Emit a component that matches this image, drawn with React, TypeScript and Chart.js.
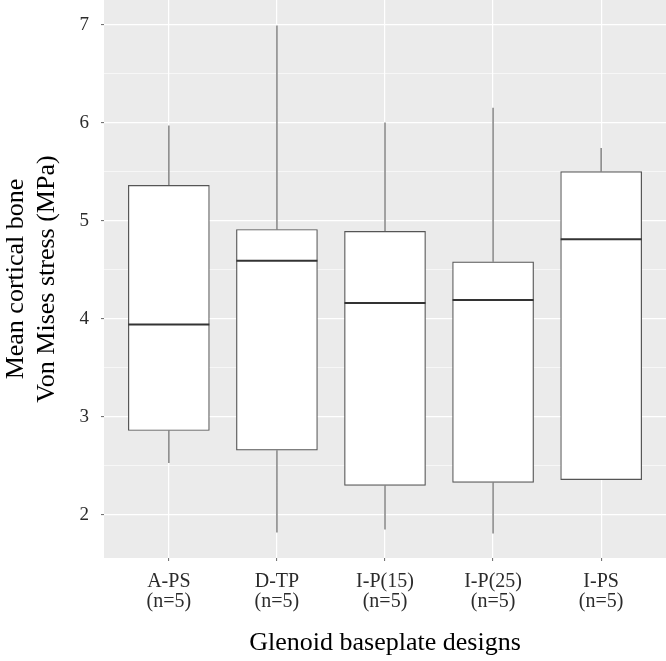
import React, { useEffect, useRef } from "react";
import { Chart, registerables } from "chart.js";

Chart.register(...registerables);

const categories = ["A-PS", "D-TP", "I-P(15)", "I-P(25)", "I-PS"];
const nLabels = ["(n=5)", "(n=5)", "(n=5)", "(n=5)", "(n=5)"];
const whiskerMin = [2.53, 1.82, 1.85, 1.81, 2.36];
const q1 = [2.86, 2.66, 2.3, 2.33, 2.36];
const medians = [3.94, 4.59, 4.16, 4.19, 4.81];
const q3 = [5.36, 4.91, 4.89, 4.58, 5.5];
const whiskerMax = [5.97, 6.99, 6.0, 6.15, 5.74];
const yTicks = [2, 3, 4, 5, 6, 7];
const yMinorTicks = [2.5, 3.5, 4.5, 5.5, 6.5];

const FONT = "'Liberation Serif', 'Times New Roman', serif";

export default function App() {
  const ref = useRef<HTMLCanvasElement | null>(null);

  useEffect(() => {
    if (!ref.current) return;
    const xs = categories.map((_, i) => i + 1);

    const whiskerData: { x: number; y: number }[] = [];
    xs.forEach((x, i) => {
      whiskerData.push({ x, y: q3[i] }, { x, y: whiskerMax[i] }, { x: NaN, y: NaN });
      whiskerData.push({ x, y: q1[i] }, { x, y: whiskerMin[i] }, { x: NaN, y: NaN });
    });

    const panelBg = {
      id: "panelBg",
      beforeDraw(chart: any) {
        const { ctx, chartArea } = chart;
        ctx.save();
        ctx.fillStyle = "#EBEBEB";
        ctx.fillRect(chartArea.left, chartArea.top, chartArea.right - chartArea.left, chartArea.bottom - chartArea.top);
        ctx.restore();
      },
    };

    const zeroPad = (scale: any) => {
      scale.paddingTop = 0;
      scale.paddingBottom = 0;
      scale.paddingLeft = 0;
      scale.paddingRight = 0;
    };

    const chart = new Chart(ref.current, {
      type: "bar",
      data: {
        datasets: [
          {
            type: "scatter",
            label: "median",
            data: xs.map((x, i) => ({ x, y: medians[i] })),
            pointStyle: "line",
            pointRadius: 40.5,
            pointBorderWidth: 2,
            pointBorderColor: "#333333",
            borderColor: "#333333",
            order: 0,
          } as any,
          {
            type: "bar",
            label: "box",
            data: xs.map((x, i) => ({ x, y: [q1[i], q3[i]] })),
            backgroundColor: "#ffffff",
            borderColor: "#555555",
            borderWidth: 1.2,
            borderSkipped: false,
            barThickness: 81,
            order: 1,
          } as any,
          {
            type: "scatter",
            label: "whiskers",
            data: whiskerData,
            showLine: true,
            spanGaps: false,
            borderColor: "#8c8c8c",
            borderWidth: 1.6,
            pointRadius: 0,
            order: 2,
          } as any,
        ],
      },
      options: {
        animation: false,
        responsive: false,
        devicePixelRatio: 1,
        layout: { padding: 0, autoPadding: false } as any,
        plugins: {
          legend: { display: false },
          tooltip: { enabled: false },
        },
        scales: {
          x: {
            type: "linear",
            offset: false,
            min: 0.4,
            max: 5.6,
            afterBuildTicks: (scale: any) => {
              scale.ticks = xs.map((v) => ({ value: v }));
            },
            afterFit: (scale: any) => {
              scale.height = 103;
              zeroPad(scale);
            },
            ticks: {
              autoSkip: false,
              maxRotation: 0,
              padding: 11,
              color: "#2b2b2b",
              font: { family: FONT, size: 20, lineHeight: 1.0 },
              callback: (v: any) => {
                const i = Math.round(Number(v)) - 1;
                return [categories[i], nLabels[i]];
              },
            },
            grid: {
              offset: false,
              color: "#ffffff",
              lineWidth: 1.2,
              tickLength: 3,
              tickColor: "#666666",
              tickWidth: 1,
            },
            border: { display: false },
            title: {
              display: true,
              text: "Glenoid baseplate designs",
              color: "#000000",
              font: { family: FONT, size: 26, lineHeight: 1.2 },
              padding: { top: 0, bottom: 2.5 },
            },
          } as any,
          y: {
            type: "linear",
            min: 1.56,
            max: 7.25,
            afterBuildTicks: (scale: any) => {
              scale.ticks = [...yTicks, ...yMinorTicks]
                .sort((a, b) => a - b)
                .map((v) => ({ value: v }));
            },
            afterFit: (scale: any) => {
              scale.width = 104;
              zeroPad(scale);
            },
            ticks: {
              autoSkip: false,
              padding: 12,
              color: "#2b2b2b",
              font: { family: FONT, size: 19 },
              callback: (v: any) => (yTicks.includes(Number(v)) ? String(v) : ""),
            },
            grid: {
              color: "#ffffff",
              lineWidth: (ctx: any) => (ctx.tick && yTicks.includes(ctx.tick.value) ? 1.2 : 0.6),
              tickLength: 3,
              tickColor: (ctx: any) =>
                ctx.tick && yTicks.includes(ctx.tick.value) ? "#666666" : "rgba(0,0,0,0)",
              tickWidth: 1,
            },
            border: { display: false },
            title: {
              display: true,
              text: ["Mean cortical bone", "Von Mises stress (MPa)"],
              color: "#000000",
              font: { family: FONT, size: 26, lineHeight: 1.2 },
              padding: { top: 0.5, bottom: 0 },
            },
          } as any,
        },
      },
      plugins: [panelBg],
    });

    return () => chart.destroy();
  }, []);

  return (
    <div style={{ position: "fixed", left: 0, top: 0, width: 666, height: 661 }}>
      <canvas ref={ref} width={666} height={661} style={{ width: 666, height: 661, display: "block" }} />
    </div>
  );
}
